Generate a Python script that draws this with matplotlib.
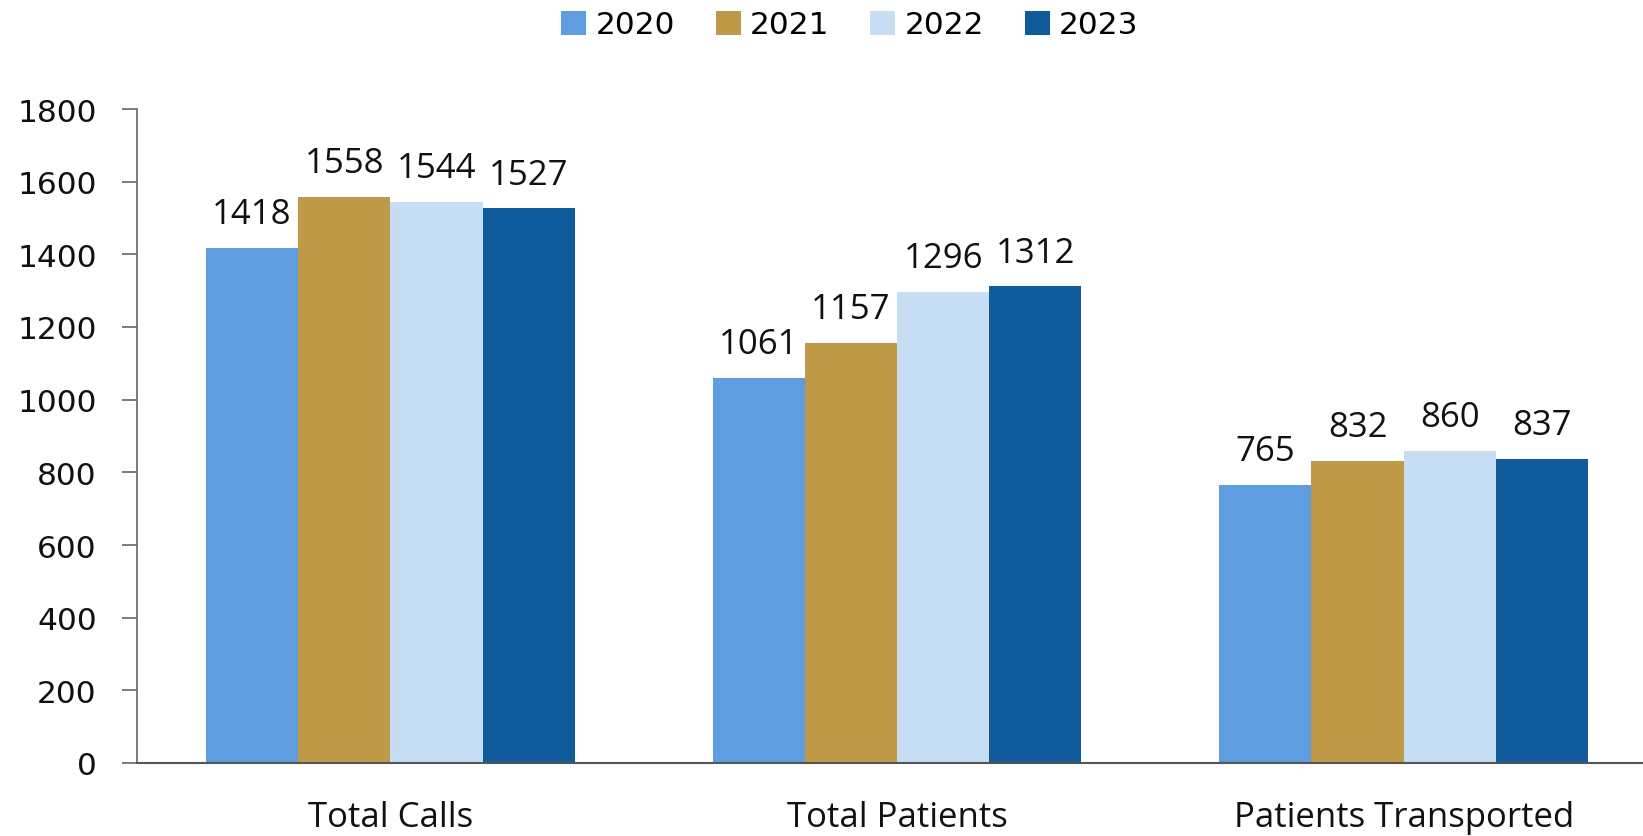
import matplotlib
matplotlib.use("Agg")
import matplotlib.pyplot as plt
import numpy as np

categories = ["Total Calls", "Total Patients", "Patients Transported"]
years = ["2020", "2021", "2022", "2023"]
v2020 = [1418, 1061, 765]
v2021 = [1558, 1157, 832]
v2022 = [1544, 1296, 860]
v2023 = [1527, 1312, 837]
series = [v2020, v2021, v2022, v2023]
colors = ["#5e9ddf", "#be9a48", "#c7ddf4", "#0f5b9c"]

W, H = 1643, 837
fig = plt.figure(figsize=(W / 100, H / 100), dpi=100)
left, right = 137, 1657
top, bottom = 110, 764
ax = fig.add_axes([left / W, (H - bottom) / H, (right - left) / W, (bottom - top) / H])

x = np.arange(len(categories))
bw = 0.182
for i, (vals, c, yr) in enumerate(zip(series, colors, years)):
    off = (i - 1.5) * bw
    ax.bar(x + off, vals, width=bw, color=c, label=yr, edgecolor="none")
    for xi, v in zip(x + off, vals):
        ax.annotate(str(v), (xi, v), xytext=(0, 12), textcoords="offset points",
                    ha="center", va="bottom", fontsize=25, family="Open Sans",
                    color="#111111")

ax.set_xlim(-0.5, 2.5)
ax.set_ylim(0, 1800)
ax.set_yticks(range(0, 1801, 200))
ax.set_xticks(x)
ax.set_xticklabels(categories, family="Open Sans", fontsize=25, color="#111111")
for lab in ax.get_yticklabels():
    lab.set_family("DejaVu Sans")
    lab.set_fontsize(22.5)
    lab.set_color("#111111")
ax.tick_params(axis="x", length=0, pad=27)
ax.tick_params(axis="y", length=11, width=1.2, color="#666666", pad=18)
for s in ["top", "right"]:
    ax.spines[s].set_visible(False)
ax.spines["left"].set_color("#666666")
ax.spines["left"].set_linewidth(1.2)
ax.spines["bottom"].set_color("#555555")
ax.spines["bottom"].set_linewidth(1.5)

leg = fig.legend(loc="center", bbox_to_anchor=(850 / W, 1 - 26 / H), ncol=4,
                 frameon=False, prop={"family": "DejaVu Sans", "size": 22.5},
                 handlelength=0.8, handleheight=0.8, handletextpad=0.3,
                 columnspacing=1.3)

fig.savefig("out.png", dpi=100)
